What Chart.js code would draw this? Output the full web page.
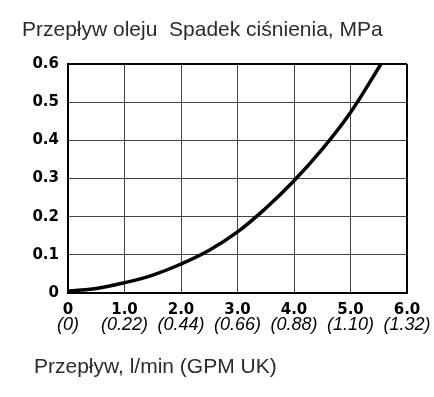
<!doctype html>
<html lang="pl">

<head>
    <meta charset="utf-8">
    <title>Przepływ oleju</title>
    <script src="https://cdn.jsdelivr.net/npm/chart.js@4.4.1/dist/chart.umd.min.js"></script>
    <style>
        body { margin: 0; background: #fff; }
        #wrap { position: relative; width: 434px; height: 397px; }
        #wrap canvas { position: absolute; left: 0; top: 0; }
        .lbl {
            position: absolute;
            font: 21px "Liberation Sans", Arial, sans-serif;
            line-height: 21px;
            color: #2b2b2b;
            white-space: pre;
        }
    </style>
</head>

<body>
    <div id="wrap">
        <canvas id="myChart" width="434" height="397"></canvas>
        <div class="lbl" style="left:22px; top:18px;">Przepływ oleju  Spadek ciśnienia, MPa</div>
        <div class="lbl" style="left:34px; top:355px;">Przepływ, l/min (GPM UK)</div>
    </div>

    <script>
        // flow in l/min, pressure drop in MPa
        var flow = [0, 0.5, 1.0, 1.5, 2.0, 2.5, 3.0, 3.5, 4.0, 4.5, 5.0, 5.54];
        var pressure = [0.005, 0.012, 0.027, 0.047, 0.076, 0.112, 0.160, 0.222, 0.294, 0.377, 0.473, 0.6];

        // x tick labels: l/min and GPM UK underneath
        var flowTicks = ['0', '1.0', '2.0', '3.0', '4.0', '5.0', '6.0'];
        var gpmTicks = ['(0)', '(0.22)', '(0.44)', '(0.66)', '(0.88)', '(1.10)', '(1.32)'];
        var pressureTicks = ['0', '0.1', '0.2', '0.3', '0.4', '0.5', '0.6'];

        var points = flow.map(function (f, i) { return { x: f, y: pressure[i] }; });

        var tickFont = { family: 'DejaVu Sans', size: 15, weight: 'bold' };

        // second line of x labels (italic GPM)
        var gpmLine = {
            id: 'gpmLine',
            afterDraw: function (chart) {
                var sx = chart.scales.x;
                var c = chart.ctx;
                c.save();
                c.fillStyle = '#000';
                c.font = 'italic 18px "Liberation Sans", Arial, sans-serif';
                c.textAlign = 'center';
                c.textBaseline = 'middle';
                gpmTicks.forEach(function (t, i) {
                    c.fillText(t, sx.getPixelForValue(i), 325);
                });
                c.restore();
            }
        };

        function edgeColor(ctx, max) {
            return ctx.tick && Math.abs(ctx.tick.value - max) < 1e-6 ? '#000' : '#444';
        }
        function edgeWidth(ctx, max) {
            return ctx.tick && Math.abs(ctx.tick.value - max) < 1e-6 ? 2 : 1;
        }

        var chart = new Chart(document.getElementById('myChart'), {
            type: 'line',
            data: {
                datasets: [{
                    data: points,
                    borderColor: '#000',
                    borderWidth: 3.5,
                    pointRadius: 0,
                    tension: 0.4,
                    fill: false
                }]
            },
            options: {
                responsive: false,
                animation: false,
                layout: { padding: { left: 0, top: 64, right: 27, bottom: 0 } },
                plugins: { legend: { display: false }, tooltip: { enabled: false } },
                scales: {
                    x: {
                        type: 'linear',
                        min: 0,
                        max: 6,
                        afterFit: function (s) { s.height = 104; },
                        ticks: {
                            stepSize: 1,
                            color: '#000',
                            font: tickFont,
                            padding: 8,
                            maxRotation: 0,
                            callback: function (v) { return flowTicks[Math.round(v)]; }
                        },
                        grid: {
                            drawTicks: false,
                            color: function (c) { return edgeColor(c, 6); },
                            lineWidth: function (c) { return edgeWidth(c, 6); }
                        },
                        border: { color: '#000', width: 2 }
                    },
                    y: {
                        min: 0,
                        max: 0.6,
                        afterFit: function (s) { s.width = 68; },
                        ticks: {
                            stepSize: 0.1,
                            color: '#000',
                            font: tickFont,
                            padding: 9,
                            callback: function (v) { return pressureTicks[Math.round(v * 10)]; }
                        },
                        grid: {
                            drawTicks: false,
                            color: function (c) { return edgeColor(c, 0.6); },
                            lineWidth: function (c) { return edgeWidth(c, 0.6); }
                        },
                        border: { color: '#000', width: 2 }
                    }
                }
            },
            plugins: [gpmLine]
        });
    </script>
</body>

</html>
